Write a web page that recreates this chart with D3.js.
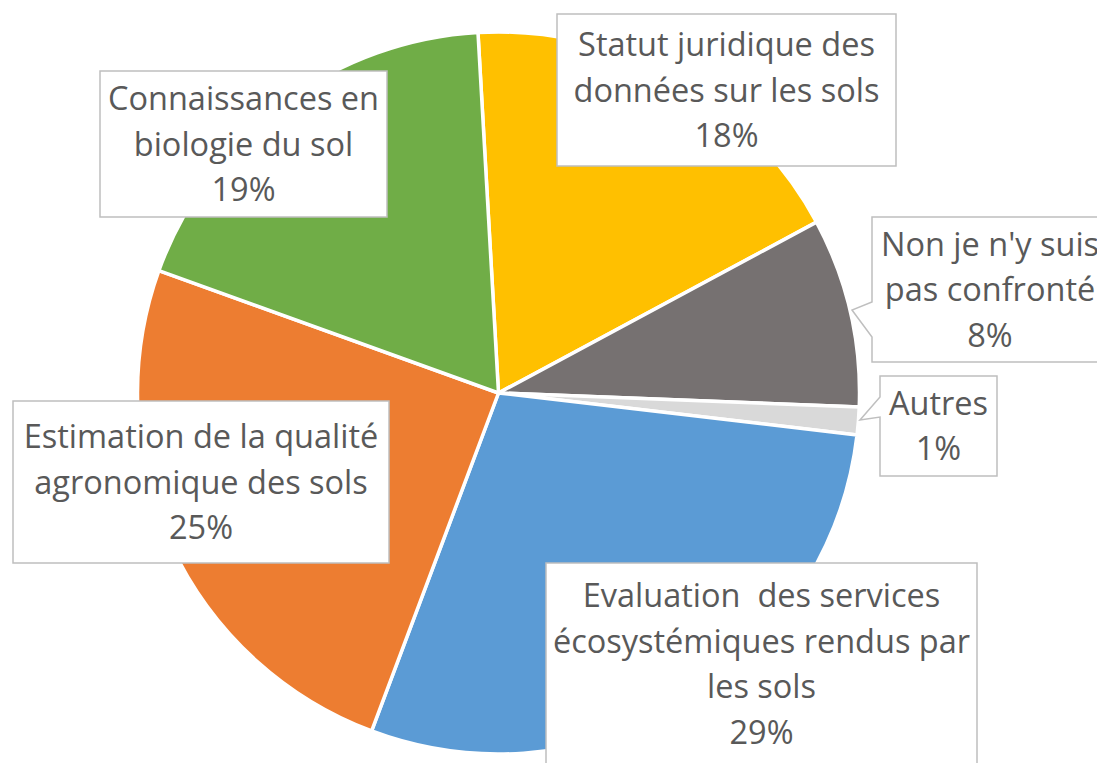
<!DOCTYPE html>
<html>
<head>
<meta charset="utf-8">
<script src="https://cdn.jsdelivr.net/npm/d3@7"></script>
<style>
  html, body { margin: 0; padding: 0; background: #fff; }
  svg text { white-space: pre; }
</style>
</head>
<body>
<svg id="chart" width="1097" height="763"></svg>
<script>
// ---- Data ----
const categories = [
  "Statut juridique des données sur les sols",
  "Non je n'y suis pas confronté",
  "Autres",
  "Evaluation  des services écosystémiques rendus par les sols",
  "Estimation de la qualité agronomique des sols",
  "Connaissances en biologie du sol"
];
const values = [18.06, 8.46, 1.24, 28.86, 24.79, 18.59];
const labelLines = [
  ["Statut juridique des", "données sur les sols"],
  ["Non je n'y suis", "pas confronté"],
  ["Autres"],
  ["Evaluation  des services", "écosystémiques rendus par", "les sols"],
  ["Estimation de la qualité", "agronomique des sols"],
  ["Connaissances en", "biologie du sol"]
];
const colors = ["#FFC000", "#767171", "#D9D9D9", "#5B9BD5", "#ED7D31", "#70AD47"];

// ---- Layout (label boxes placed as in the original) ----
const boxes = [
  {x0: 557, y0: 14, x1: 896, y1: 166},
  {x0: 872, y0: 217, x1: 1108, y1: 362, notch: [[872, 302], [852, 310], [872, 337]]},
  {x0: 880, y0: 376, x1: 997, y1: 476, notch: [[880, 397], [860, 420], [880, 417]]},
  {x0: 546, y0: 563, x1: 977, y1: 790, cy: 664},
  {x0: 13, y0: 401, x1: 389, y1: 563},
  {x0: 100, y0: 71, x1: 387, y1: 217}
];

const cx = 498.5, cy = 393, R = 361;
const startDeg = -3.26;
const fontSize = 32.5, lineH = 45.5;

const svg = d3.select("#chart");
const total = d3.sum(values);
const pct = d3.format(".0%");

const pie = d3.pie().sort(null).value(d => d)
  .startAngle(startDeg * Math.PI / 180)
  .endAngle(startDeg * Math.PI / 180 + 2 * Math.PI);
const arc = d3.arc().innerRadius(0).outerRadius(R);

const g = svg.append("g").attr("transform", `translate(${cx},${cy})`);
g.selectAll("path").data(pie(values)).join("path")
  .attr("d", arc)
  .attr("fill", (d, i) => colors[i])
  .attr("stroke", "#fff")
  .attr("stroke-width", 3.5)
  .attr("stroke-linejoin", "round");

// labels
const lbl = svg.append("g");
values.forEach((v, i) => {
  const b = boxes[i];
  let pts = [[b.x0, b.y0], [b.x1, b.y0], [b.x1, b.y1], [b.x0, b.y1]];
  if (b.notch) pts = pts.concat(b.notch.slice().reverse());
  lbl.append("path")
    .attr("d", d3.line()(pts) + "Z")
    .attr("fill", "#fff")
    .attr("stroke", "#BFBFBF")
    .attr("stroke-width", 1.5);
  const lines = labelLines[i].concat([pct(v / total)]);
  const centerY = b.cy !== undefined ? b.cy : (b.y0 + b.y1) / 2;
  const midX = (b.x0 + b.x1) / 2;
  const firstBase = centerY + 11.5 - (lines.length - 1) / 2 * lineH;
  const t = lbl.append("text")
    .attr("font-family", "'Open Sans', 'Noto Sans', sans-serif")
    .attr("font-size", fontSize)
    .attr("fill", "#595959")
    .attr("text-anchor", "middle");
  lines.forEach((ln, k) => {
    t.append("tspan").attr("x", midX).attr("y", firstBase + k * lineH).text(ln);
  });
});
</script>
</body>
</html>
